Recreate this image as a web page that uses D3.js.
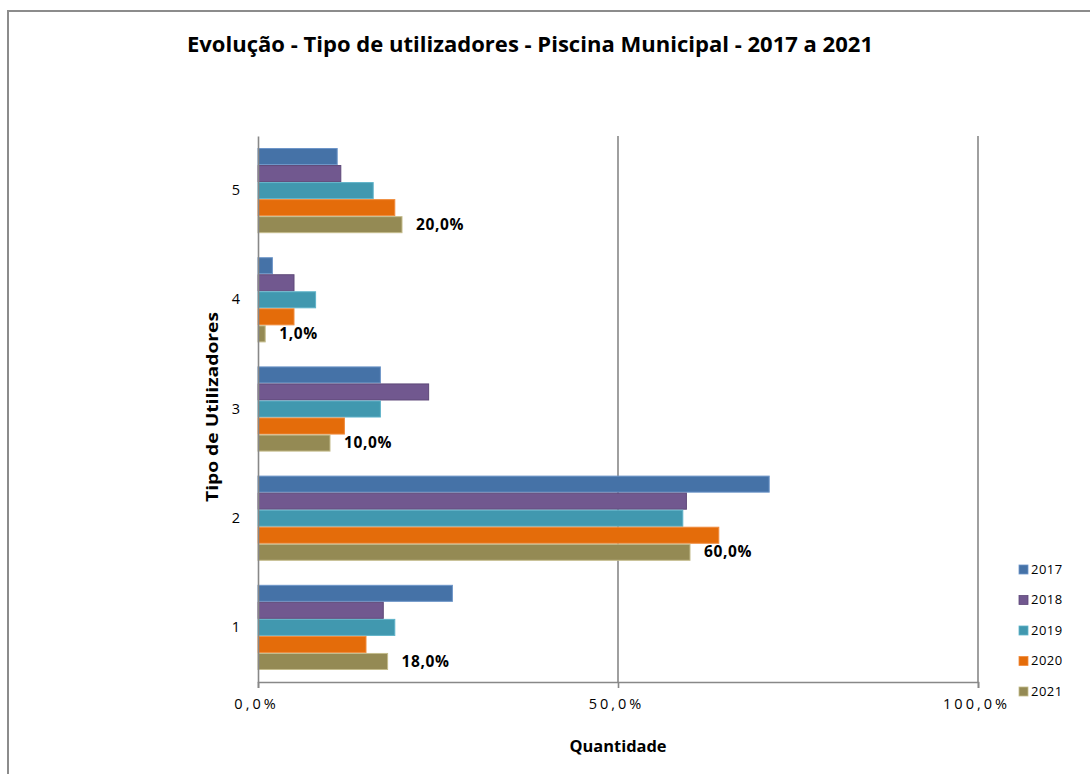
<!DOCTYPE html>
<html>
<head>
<meta charset="utf-8">
<script src="https://cdn.jsdelivr.net/npm/d3@7"></script>
<style>
  html, body { margin: 0; padding: 0; background: #fff; }
  svg { display: block; }
</style>
</head>
<body>
<svg id="chart" width="1090" height="774"></svg>
<script>
// Categories of users (drawn bottom to top: 1 ... 5)
const categories = ["1", "2", "3", "4", "5"];
const years = ["2017", "2018", "2019", "2020", "2021"];
// Share of users per category, in percent, one array per year
const v2017 = [27.0, 71.0, 17.0, 2.0, 11.0];
const v2018 = [17.4, 59.5, 23.7, 5.0, 11.5];
const v2019 = [19.0, 59.0, 17.0, 8.0, 16.0];
const v2020 = [15.0, 64.0, 12.0, 5.0, 19.0];
const v2021 = [18.0, 60.0, 10.0, 1.0, 20.0];
const xTicks = [0, 50, 100];
const colors = ["#4572A7", "#71588F", "#4198AF", "#E46C0A", "#948A54"];
const strokes = ["#6d95c8", "#5e4878", "#5fb3c9", "#f08b3c", "#c4bc8c"];

const seriesValues = [v2017, v2018, v2019, v2020, v2021];
const series = years.map((y, i) => ({ year: y, values: seriesValues[i], color: colors[i], stroke: strokes[i] }));

const FONT = "'Open Sans', 'DejaVu Sans', sans-serif";
const svg = d3.select("#chart");
const W = 1090, H = 774;
const plot = { left: 258, right: 978, top: 136, bottom: 682 };

// Chart area border
svg.append("rect")
  .attr("x", 8).attr("y", 11)
  .attr("width", W + 20).attr("height", H + 20)
  .attr("fill", "#fff").attr("stroke", "#8c8c8c").attr("stroke-width", 2);

const fmt = v => d3.format(".1f")(v).replace(".", ",") + "%";

const x = d3.scaleLinear().domain([0, 100]).range([plot.left, plot.right]);
const y = d3.scaleBand()
  .domain(categories.slice().reverse())
  .range([plot.top, plot.bottom])
  .paddingInner(0.22).paddingOuter(0.11);
const yInner = d3.scaleBand().domain(years).range([0, y.bandwidth()]);

// Vertical gridlines
svg.append("g").selectAll("line")
  .data(xTicks.filter(t => t > 0))
  .join("line")
  .attr("x1", d => x(d)).attr("x2", d => x(d))
  .attr("y1", plot.top).attr("y2", plot.bottom)
  .attr("stroke", "#888").attr("stroke-width", 1.6);

// Bars
const groups = svg.append("g").selectAll("g")
  .data(series)
  .join("g");

groups.selectAll("rect")
  .data(s => s.values.map((v, i) => ({ cat: categories[i], v, s })))
  .join("rect")
  .attr("x", x(0))
  .attr("y", d => y(d.cat) + yInner(d.s.year) + 0.5)
  .attr("width", d => x(d.v) - x(0))
  .attr("height", yInner.bandwidth() - 1)
  .attr("fill", d => d.s.color)
  .attr("stroke", d => d.s.stroke)
  .attr("stroke-width", 1);

// Value labels for the latest year
const last = series[series.length - 1];
svg.append("g").selectAll("text")
  .data(last.values.map((v, i) => ({ cat: categories[i], v })))
  .join("text")
  .attr("x", d => x(d.v) + 14)
  .attr("y", d => y(d.cat) + yInner(last.year) + yInner.bandwidth() / 2 + 1)
  .attr("dominant-baseline", "middle")
  .attr("font-family", FONT)
  .attr("font-size", 15.5).attr("font-weight", "bold").attr("fill", "#000")
  .attr("letter-spacing", 0.6)
  .text(d => fmt(d.v));

// X axis
const xAxis = d3.axisBottom(x).tickValues(xTicks).tickSize(6).tickFormat(fmt);
const gx = svg.append("g").attr("transform", `translate(0,${plot.bottom})`).call(xAxis);
gx.select(".domain").attr("stroke", "#888").attr("stroke-width", 1.6);
gx.selectAll(".tick line").attr("stroke", "#888").attr("stroke-width", 1.6);
gx.selectAll(".tick text")
  .attr("x", -2).attr("y", 17).attr("dy", "0.71em")
  .attr("font-family", FONT)
  .attr("font-size", 14.5).attr("letter-spacing", 3).attr("fill", "#000");

// Y axis
const yAxis = d3.axisLeft(y).tickSize(0).tickPadding(18);
const gy = svg.append("g").attr("transform", `translate(${plot.left},0)`).call(yAxis);
gy.select(".domain").attr("stroke", "#888").attr("stroke-width", 1.6);
gy.selectAll(".tick text")
  .attr("font-family", FONT)
  .attr("font-size", 14.5).attr("fill", "#000");

// Title
svg.append("text")
  .attr("x", 530).attr("y", 52)
  .attr("text-anchor", "middle")
  .attr("font-family", FONT)
  .attr("font-size", 21).attr("font-weight", "bold").attr("fill", "#000")
  .attr("textLength", 686).attr("lengthAdjust", "spacingAndGlyphs")
  .text("Evolução - Tipo de utilizadores - Piscina Municipal - 2017 a 2021");

// Axis titles
svg.append("text")
  .attr("x", 618).attr("y", 752)
  .attr("text-anchor", "middle")
  .attr("font-family", FONT)
  .attr("font-size", 16).attr("font-weight", "bold").attr("fill", "#000")
  .attr("textLength", 97).attr("lengthAdjust", "spacingAndGlyphs")
  .text("Quantidade");

svg.append("text")
  .attr("transform", "translate(218,407) rotate(-90)")
  .attr("text-anchor", "middle")
  .attr("font-family", FONT)
  .attr("font-size", 16.5).attr("font-weight", "bold").attr("fill", "#000")
  .attr("textLength", 190).attr("lengthAdjust", "spacingAndGlyphs")
  .text("Tipo de Utilizadores");

// Legend
const legend = svg.append("g").selectAll("g")
  .data(series)
  .join("g")
  .attr("transform", (d, i) => `translate(1019,${570 + i * 30.5})`);
legend.append("rect")
  .attr("x", 0).attr("y", -5).attr("width", 9).attr("height", 9)
  .attr("fill", d => d.color).attr("stroke", d => d.stroke).attr("stroke-width", 0.8);
legend.append("text")
  .attr("x", 12).attr("y", 0.5)
  .attr("dominant-baseline", "middle")
  .attr("font-family", FONT)
  .attr("font-size", 13).attr("letter-spacing", 0.5).attr("fill", "#000")
  .text(d => d.year);
</script>
</body>
</html>
